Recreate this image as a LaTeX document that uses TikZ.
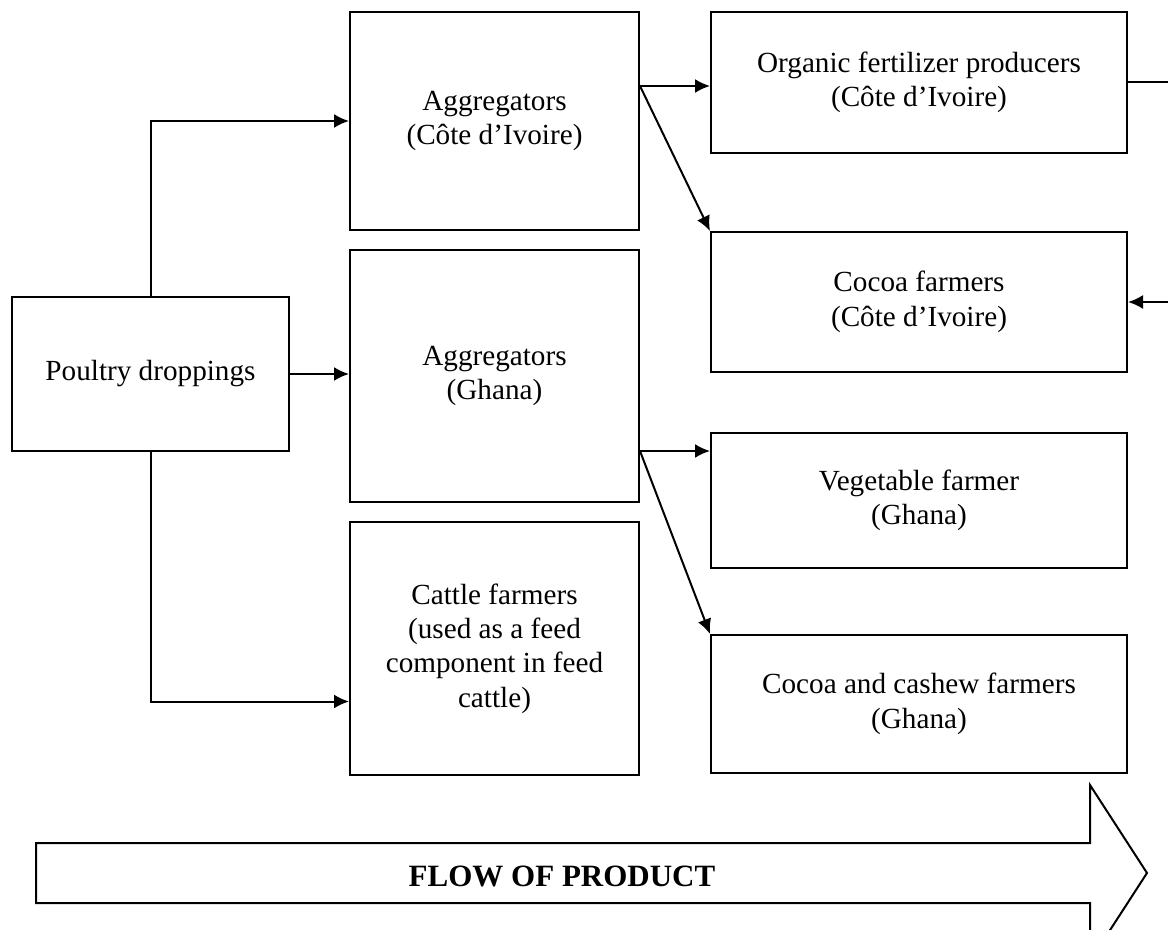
\documentclass[tikz,border=0pt]{standalone}
\usepackage{fontspec}
\setmainfont{Liberation Serif}
\usetikzlibrary{arrows.meta}
\usetikzlibrary{calc}

\begin{document}
\begin{tikzpicture}[
x=0.5pt, y=-0.5pt,
box/.style={
    draw,
    line width=1pt,
    align=center,
    inner sep=0pt,
    font=\fontsize{14.6}{17.2}\selectfont
},
flow/.style={
    line width=1pt,
    -{Latex[length=7.5pt,width=7pt]}
}
]
\useasboundingbox (0,0) rectangle (1168,930);
\clip (0,0) rectangle (1168,930);

% source
\node[box, minimum width=138.5pt, minimum height=77pt] (poultry) at (150.5,374) {Poultry droppings};

% middle column
\node[box, minimum width=144.5pt, minimum height=109pt] (aggci) at (494.5,121) {Aggregators\\(Côte d’Ivoire)};
\node[box, minimum width=144.5pt, minimum height=126pt] (agggh) at (494.5,376) {Aggregators\\(Ghana)};
\node[box, minimum width=144.5pt, minimum height=126.5pt] (cattle) at (494.5,648.5) {Cattle farmers\\(used as a feed\\component in feed\\cattle)};

% right column
\node[box, minimum width=208pt, minimum height=70.5pt] (fertci) at (919,82.5) {Organic fertilizer producers\\(Côte d’Ivoire)};
\node[box, minimum width=208pt, minimum height=70pt] (cocoaci) at (919,302) {Cocoa farmers\\(Côte d’Ivoire)};
\node[box, minimum width=208pt, minimum height=67.5pt] (veggh) at (919,500.5) {Vegetable farmer\\(Ghana)};
\node[box, minimum width=208pt, minimum height=69pt] (cashewgh) at (919,704) {Cocoa and cashew farmers\\(Ghana)};

% split points and loose ends
\coordinate (cisplit) at ($(aggci.north east)+(0,75)$);
\coordinate (ghsplit) at ($(agggh.north east)+(0,202)$);
\coordinate (fertout) at ($(fertci.east)+(60,0)$);
\coordinate (cocoain) at ($(cocoaci.east)+(60,0)$);

\draw[flow] (poultry.north) |- (aggci.west);
\draw[flow] (poultry.east) -- (poultry.east -| agggh.west);
\draw[flow] (poultry.south) |- ($(cattle.west)+(0,53)$);

\draw[flow] (cisplit) -- (cisplit -| fertci.west);
\draw[flow] (cisplit) -- (cocoaci.north west);
\draw[flow] (ghsplit) -- (ghsplit -| veggh.west);
\draw[flow] (ghsplit) -- (cashewgh.north west);

\draw[line width=1pt] (fertci.east) -- (fertout);
\draw[flow] (cocoain) -- (cocoaci.east);

% big arrow
\draw[line width=1pt] (36,843) -- (1090,843) -- (1090,785) -- (1147,873)
    -- (1090,961) -- (1090,903) -- (36,903) -- cycle;
\node[font=\fontsize{15.5}{18}\selectfont\bfseries] (flowlabel) at (562,876) {FLOW OF PRODUCT};
\end{tikzpicture}
\end{document}
